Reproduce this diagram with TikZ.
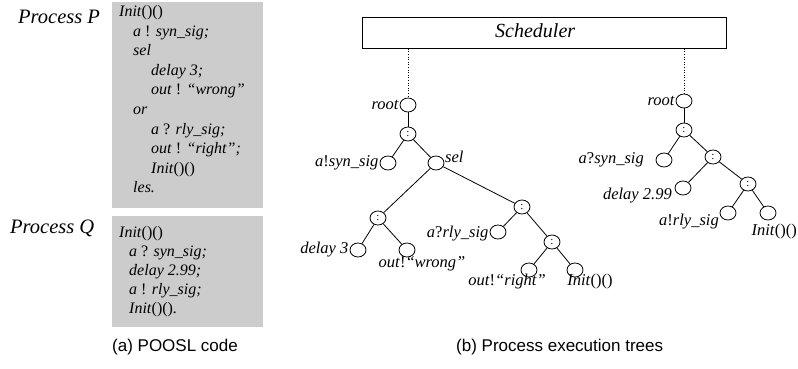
\documentclass[tikz,border=0pt]{standalone}
\usepackage{fontspec}
\setmainfont{Liberation Serif}
\newfontfamily\capfont{Liberation Sans}
\usetikzlibrary{shapes.geometric}
\definecolor{boxgray}{RGB}{204,204,204}
\begin{document}
\begin{tikzpicture}[x=1pt,y=-1pt,
  tn/.style={draw, ellipse, minimum width=16pt, minimum height=14pt, inner sep=0pt, line width=0.8pt},
  cn/.style={tn, font=\fontsize{11}{11}\selectfont},
  lbl/.style={font=\fontsize{16.5}{18}\selectfont\itshape, inner sep=1pt},
  code/.style={font=\fontsize{16}{18}\selectfont\itshape, anchor=base west, inner sep=0pt},
  proc/.style={font=\fontsize{20.5}{22}\selectfont\itshape, anchor=base west, inner sep=0pt},
  captext/.style={font=\fontsize{17}{19}\selectfont\capfont, inner sep=0pt, anchor=base west},
  codebox/.style={fill=boxgray, anchor=north west, minimum width=151pt, inner sep=0pt},
  treeline/.style={line width=0.8pt},
  link/.style={dotted, line width=0.6pt}]
\useasboundingbox (0,0) rectangle (798,369);

% ---- (a) POOSL code ----
\node[codebox, minimum height=206pt] (boxP) at (112,2) {};
\node[codebox, minimum height=111pt] (boxQ) at (112,216) {};
\node[proc] (procP) at (18,24) {Process P};
\node[proc] (procQ) at (10,233) {Process Q};

\node[code] (p1) at (119,17) {Init\textup{()()}};
\node[code] (p2) at (133,36.5) {a \textup{!} syn\_sig;};
\node[code] (p3) at (133,56) {sel};
\node[code] (p4) at (151,75.5) {delay 3;};
\node[code] (p5) at (151,95) {out \textup{!} “wrong”};
\node[code] (p6) at (133,114.5) {or};
\node[code] (p7) at (151,134) {a \textup{?} rly\_sig;};
\node[code] (p8) at (151,153.5) {out \textup{!} “right”;};
\node[code] (p9) at (151,173) {Init\textup{()()}};
\node[code] (p10) at (133,192.5) {les.};

\node[code] (q1) at (119,237) {Init\textup{()()}};
\node[code] (q2) at (129,256) {a \textup{?} syn\_sig;};
\node[code] (q3) at (129,275) {delay 2.99;};
\node[code] (q4) at (129,294) {a \textup{!} rly\_sig;};
\node[code] (q5) at (129,313) {Init\textup{()()}.};

\node[captext] (capa) at (112,351) {(a) POOSL code};

% ---- (b) trees ----
\node[draw, line width=0.8pt, fill=white, anchor=north west, minimum width=364pt, minimum height=31pt] (sched) at (362,17) {};
\node[font=\fontsize{20}{22}\selectfont\itshape, anchor=base west, inner sep=0pt] (schedtxt) at (495,38) {Scheduler};

% tree 1
\node[tn] (r1) at (408,105) {};
\node[cn] (c1) at (408,134) {:};
\node[tn] (a1) at (388,163) {};
\node[tn] (s1) at (436,163) {};
\node[cn] (c2) at (378,218) {:};
\node[tn] (d3) at (358,250) {};
\node[tn] (ow) at (407,250) {};
\node[cn] (c3) at (522,207) {:};
\node[tn] (ar) at (498,232) {};
\node[cn] (c4) at (552,242) {:};
\node[tn] (orr) at (529,270) {};
\node[tn] (in1) at (575,270) {};

\draw[link] (sched.south -| r1) -- (r1.north);
\draw[treeline] (r1) -- (c1);
\draw[treeline] (c1) -- (a1);
\draw[treeline] (c1) -- (s1);
\draw[treeline] (s1) -- (c2);
\draw[treeline] (s1) -- (c3);
\draw[treeline] (c2) -- (d3);
\draw[treeline] (c2) -- (ow);
\draw[treeline] (c3) -- (ar);
\draw[treeline] (c3) -- (c4);
\draw[treeline] (c4) -- (orr);
\draw[treeline] (c4) -- (in1);

\node[lbl, anchor=east] (lr1) at (r1.west) {root};
\node[lbl, anchor=east] (la1) at (a1.west) {a\textup{!}syn\_sig};
\node[lbl, anchor=west] (ls1) at (444,157) {sel};
\node[lbl, anchor=east] (ld3) at (d3.west) {delay 3};
\node[lbl] (low) at (422,264) {out\textup{!}“wrong”};
\node[lbl, anchor=east] (lar) at ([yshift=-2pt]ar.west) {a\textup{?}rly\_sig};
\node[lbl] (lor) at (507,282) {out\textup{!}“right”};
\node[lbl] (lin1) at (590,282) {Init\textup{()()}};

% tree 2
\node[tn] (r2) at (684,101) {};
\node[cn] (c5) at (684,130) {:};
\node[tn] (as) at (664,160) {};
\node[cn] (c6) at (713,157) {:};
\node[tn] (d299) at (683,188) {};
\node[cn] (c7) at (748,184) {:};
\node[tn] (ar2) at (728,213) {};
\node[tn] (in2) at (768,213) {};

\draw[link] (sched.south -| r2) -- (r2.north);
\draw[treeline] (r2) -- (c5);
\draw[treeline] (c5) -- (as);
\draw[treeline] (c5) -- (c6);
\draw[treeline] (c6) -- (d299);
\draw[treeline] (c6) -- (c7);
\draw[treeline] (c7) -- (ar2);
\draw[treeline] (c7) -- (in2);

\node[lbl, anchor=east] (lr2) at (r2.west) {root};
\node[lbl, anchor=east] (las) at (645,160) {a\textup{?}syn\_sig};
\node[lbl, anchor=east] (ld299) at (673,196) {delay 2.99};
\node[lbl, anchor=east] (lar2) at (720,222) {a\textup{!}rly\_sig};
\node[lbl, anchor=east] (lin2) at (798,232) {Init\textup{()()}};

\node[captext] (capb) at (456,351) {(b) Process execution trees};
\end{tikzpicture}
\end{document}
